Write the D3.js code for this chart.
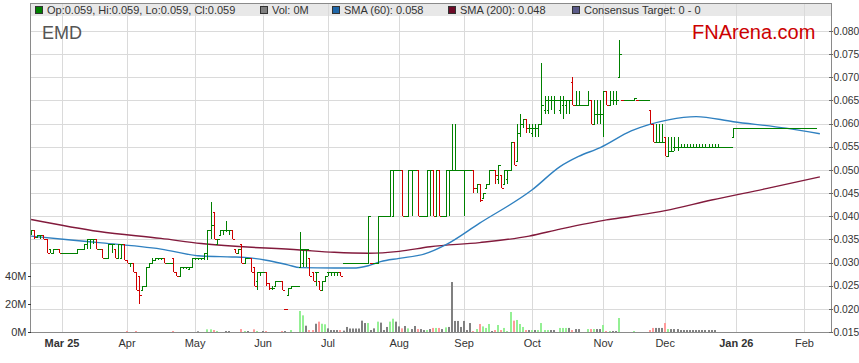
<!DOCTYPE html>
<html lang="en">
<head>
<meta charset="UTF-8">
<title>EMD</title>
<script src="https://d3js.org/d3.v7.min.js"></script>
<style>
  body { margin: 0; background: #fff; }
  svg { display: block; font-family: "Liberation Sans", Arial, sans-serif; }
  .grid line { stroke: #dadada; stroke-width: 1; shape-rendering: crispEdges; }
  .lbl { fill: #333; font-size: 11px; }
</style>
</head>
<body>
<svg id="chart" width="859" height="363"></svg>
<script>
// first trading day shown (weekdays from here on)
const firstDay = "2025-02-17";

// daily [open, high, low, close]
const priceRows = [
  [0.0365,0.037,0.036,0.037],[0.037,0.037,0.035,0.0355],[0.0355,0.036,0.0355,0.036],[0.036,0.036,0.035,0.036],[0.036,0.036,0.035,0.035],
  [0.035,0.035,0.032,0.032],[0.033,0.033,0.032,0.032],[0.032,0.033,0.032,0.033],[0.033,0.033,0.033,0.033],[0.033,0.033,0.032,0.032],
  [0.032,0.032,0.032,0.032],[0.032,0.032,0.032,0.032],[0.032,0.032,0.032,0.032],[0.032,0.032,0.032,0.032],[0.032,0.032,0.032,0.032],
  [0.032,0.033,0.032,0.033],[0.033,0.033,0.033,0.033],[0.033,0.034,0.033,0.034],[0.034,0.035,0.033,0.035],[0.035,0.035,0.033,0.035],
  [0.035,0.035,0.034,0.035],[0.035,0.035,0.033,0.033],[0.033,0.033,0.033,0.033],[0.033,0.033,0.031,0.031],[0.031,0.031,0.031,0.031],
  [0.031,0.034,0.031,0.034],[0.034,0.034,0.032,0.034],[0.033,0.033,0.031,0.031],[0.031,0.034,0.031,0.034],[0.031,0.034,0.031,0.034],
  [0.034,0.034,0.0305,0.0305],[0.0305,0.0305,0.030,0.030],[0.030,0.030,0.029,0.030],[0.030,0.030,0.028,0.028],[0.028,0.028,0.024,0.024],
  [0.027,0.027,0.021,0.023],[0.024,0.025,0.024,0.025],[0.025,0.029,0.025,0.029],[0.029,0.030,0.029,0.030],[0.030,0.031,0.030,0.0305],
  [0.0305,0.031,0.0305,0.031],[0.031,0.031,0.0305,0.031],[0.031,0.031,0.0305,0.031],[0.031,0.031,0.030,0.030],[0.030,0.030,0.030,0.030],
  [0.030,0.030,0.030,0.030],[0.031,0.031,0.028,0.028],[0.028,0.028,0.027,0.027],[0.027,0.029,0.027,0.029],[0.029,0.029,0.0285,0.029],
  [0.029,0.029,0.0285,0.029],[0.0285,0.029,0.0285,0.029],[0.029,0.031,0.029,0.031],[0.031,0.031,0.0305,0.031],[0.031,0.031,0.0305,0.031],
  [0.031,0.031,0.0305,0.031],[0.031,0.032,0.0305,0.032],[0.032,0.037,0.0305,0.037],[0.037,0.043,0.035,0.038],[0.041,0.041,0.035,0.035],
  [0.034,0.035,0.034,0.035],[0.036,0.037,0.036,0.037],[0.037,0.037,0.036,0.037],[0.037,0.039,0.0365,0.037],[0.037,0.037,0.036,0.037],
  [0.037,0.037,0.035,0.035],[0.033,0.033,0.032,0.032],[0.032,0.033,0.032,0.033],[0.034,0.034,0.030,0.030],[0.030,0.031,0.030,0.031],
  [0.031,0.031,0.031,0.031],[0.031,0.031,0.028,0.028],[0.029,0.029,0.025,0.025],[0.026,0.028,0.024,0.028],[0.028,0.028,0.027,0.028],
  [0.028,0.028,0.028,0.028],[0.028,0.028,0.025,0.0255],[0.0255,0.0255,0.024,0.0245],[0.0245,0.025,0.024,0.0245],[0.025,0.026,0.025,0.026],
  [0.026,0.026,0.026,0.026],[0.026,0.026,0.024,0.024],[0.020,0.020,0.020,0.020],[0.023,0.0245,0.023,0.0245],[0.0245,0.025,0.0245,0.025],
  [0.025,0.025,0.025,0.025],[0.025,0.025,0.025,0.025],[0.029,0.0365,0.029,0.033],[0.030,0.033,0.029,0.033],[0.033,0.033,0.029,0.033],
  [0.031,0.031,0.027,0.027],[0.028,0.028,0.026,0.026],[0.028,0.028,0.025,0.028],[0.026,0.026,0.024,0.024],[0.024,0.026,0.024,0.026],
  [0.026,0.027,0.026,0.027],[0.028,0.028,0.027,0.028],[0.028,0.028,0.027,0.028],[0.028,0.028,0.027,0.028],[0.028,0.028,0.027,0.028],
  [0.028,0.028,0.027,0.027],[0.030,0.030,0.030,0.030],[0.030,0.030,0.030,0.030],[0.030,0.030,0.030,0.030],[0.030,0.030,0.030,0.030],
  [0.030,0.030,0.030,0.030],[0.030,0.030,0.030,0.030],[0.030,0.030,0.030,0.030],[0.030,0.030,0.030,0.030],[0.030,0.040,0.030,0.040],
  [0.030,0.030,0.030,0.030],[0.030,0.030,0.030,0.030],[0.030,0.040,0.030,0.040],[0.040,0.040,0.040,0.040],[0.040,0.040,0.040,0.040],
  [0.040,0.040,0.040,0.040],[0.040,0.050,0.040,0.050],[0.040,0.050,0.040,0.050],[0.050,0.050,0.050,0.050],[0.050,0.050,0.050,0.050],
  [0.050,0.050,0.040,0.040],[0.040,0.040,0.040,0.040],[0.040,0.050,0.040,0.050],[0.050,0.050,0.040,0.050],[0.050,0.050,0.050,0.050],
  [0.050,0.050,0.040,0.040],[0.040,0.040,0.040,0.040],[0.040,0.040,0.040,0.040],[0.040,0.050,0.040,0.050],[0.050,0.050,0.040,0.050],
  [0.050,0.050,0.040,0.040],[0.040,0.050,0.040,0.050],[0.050,0.050,0.040,0.040],[0.040,0.040,0.040,0.040],[0.040,0.050,0.040,0.050],
  [0.050,0.050,0.040,0.050],[0.050,0.060,0.050,0.050],[0.050,0.060,0.050,0.050],[0.050,0.050,0.050,0.050],[0.050,0.050,0.050,0.050],
  [0.050,0.050,0.040,0.050],[0.050,0.050,0.050,0.050],[0.050,0.050,0.050,0.050],[0.050,0.050,0.045,0.046],[0.046,0.047,0.045,0.047],
  [0.047,0.047,0.043,0.0435],[0.044,0.045,0.044,0.045],[0.046,0.047,0.046,0.047],[0.047,0.050,0.047,0.050],[0.050,0.050,0.050,0.050],
  [0.050,0.050,0.047,0.049],[0.048,0.051,0.047,0.051],[0.049,0.049,0.046,0.046],[0.047,0.050,0.047,0.050],[0.048,0.050,0.047,0.050],
  [0.050,0.056,0.050,0.056],[0.056,0.056,0.051,0.051],[0.052,0.060,0.052,0.058],[0.058,0.062,0.057,0.060],[0.060,0.061,0.059,0.061],
  [0.061,0.061,0.058,0.059],[0.059,0.060,0.058,0.059],[0.058,0.060,0.057,0.059],[0.059,0.060,0.057,0.059],[0.059,0.060,0.057,0.060],
  [0.060,0.073,0.060,0.064],[0.063,0.066,0.062,0.065],[0.063,0.066,0.062,0.065],[0.065,0.066,0.063,0.065],[0.065,0.066,0.062,0.065],
  [0.065,0.065,0.065,0.065],[0.063,0.066,0.062,0.065],[0.064,0.066,0.061,0.065],[0.064,0.065,0.062,0.065],[0.065,0.065,0.062,0.065],
  [0.069,0.070,0.064,0.064],[0.064,0.067,0.064,0.064],[0.064,0.067,0.064,0.064],[0.064,0.064,0.064,0.064],[0.064,0.064,0.064,0.064],
  [0.064,0.067,0.064,0.065],[0.065,0.065,0.060,0.060],[0.060,0.065,0.060,0.062],[0.062,0.065,0.060,0.062],[0.062,0.065,0.060,0.062],
  [0.062,0.067,0.057,0.067],[0.067,0.067,0.064,0.064],[0.064,0.067,0.064,0.065],[0.065,0.067,0.064,0.065],[0.065,0.067,0.064,0.065],
  [0.070,0.078,0.070,0.075],[0.065,0.065,0.065,0.065],[0.065,0.065,0.065,0.065],[0.065,0.065,0.065,0.065],[0.065,0.065,0.065,0.065],
  [0.065,0.0655,0.065,0.0655],[0.065,0.065,0.065,0.065],[0.065,0.065,0.065,0.065],[0.065,0.065,0.065,0.065],[0.065,0.065,0.065,0.065],
  [0.063,0.063,0.060,0.060],[0.060,0.060,0.056,0.056],[0.056,0.060,0.056,0.056],[0.056,0.060,0.056,0.056],[0.056,0.060,0.056,0.056],
  [0.057,0.057,0.053,0.053],[0.053,0.057,0.053,0.054],[0.054,0.057,0.054,0.054],[0.055,0.057,0.054,0.055],[0.055,0.057,0.054,0.055],
  [0.055,0.0556,0.055,0.055],[0.055,0.0556,0.055,0.055],[0.055,0.0556,0.055,0.055],[0.055,0.0556,0.055,0.055],[0.055,0.0556,0.055,0.055],
  [0.055,0.0556,0.055,0.055],[0.055,0.0556,0.055,0.055],[0.055,0.0556,0.055,0.055],[0.055,0.0556,0.055,0.055],[0.055,0.0556,0.055,0.055],
  [0.055,0.0556,0.055,0.055],[0.055,0.0556,0.055,0.055],[0.055,0.0556,0.055,0.055],[0.055,0.055,0.055,0.055],[0.055,0.055,0.055,0.055],
  [0.055,0.055,0.055,0.055],[0.055,0.055,0.055,0.055],[0.057,0.059,0.057,0.059],[0.059,0.059,0.059,0.059],[0.059,0.059,0.059,0.059],
  [0.059,0.059,0.059,0.059],[0.059,0.059,0.059,0.059],[0.059,0.059,0.059,0.059],[0.059,0.059,0.059,0.059],[0.059,0.059,0.059,0.059],
  [0.059,0.059,0.059,0.059],[0.059,0.059,0.059,0.059],[0.059,0.059,0.059,0.059],[0.059,0.059,0.059,0.059],[0.059,0.059,0.059,0.059],
  [0.059,0.059,0.059,0.059],[0.059,0.059,0.059,0.059],[0.059,0.059,0.059,0.059],[0.059,0.059,0.059,0.059],[0.059,0.059,0.059,0.059],
  [0.059,0.059,0.059,0.059],[0.059,0.059,0.059,0.059],[0.059,0.059,0.059,0.059],[0.059,0.059,0.059,0.059],[0.059,0.059,0.059,0.059],
  [0.059,0.059,0.059,0.059],[0.059,0.059,0.059,0.059],[0.059,0.059,0.059,0.059],[0.059,0.059,0.059,0.059]
];

// daily volume, millions of shares
const volumes = [
  0,0,0,0,0, 0,0,0,0,0, 0,0,0,0,0, 0,0,0,0,0, 0,0,0,0,0, 0,0,0,0,0,
  0,0.7,0,0,0.7, 0,0,0,0,0, 0,0,0,0,0, 0,0.7,0,0,0, 0,0,0,0,0.5,
  0,0,1.9,1.9,1.4, 0.7,0,0,0.7,0.7, 0,0,0,2.1,0.7, 0.7,0,1.9,0.7,0, 0.7,0.7,0,0,0,
  0,0.7,0.7,0,1.4, 0,0,15,11.9,4.5, 1.4,1.4,5.9,7.4,5.9, 5.5,2.6,1.4,1.4,1.4,
  1.4,1,3.6,2.5,2.5, 2.5,2.5,8.1,6.4,6.4, 1.4,2.6,7.4,6.7,1.4, 3.6,7.4,9.5,7.4,4,
  2.6,4.3,2.6,2.1,4.3, 2.1,2.1,1.4,1.4,2.1, 2.9,2.9,2.9,2.1,3.3, 3.6,35.7,7.9,7.9,3.6,
  7.9,1.4,6.4,0.7,2.1, 5.7,4,2.9,5.7,0.7, 1.4,5,1.4,2.9,0.7, 14.3,8.1,8.6,5.7,3.6,
  1.4,1.4,1.4,1.4,1.4, 6.4,1.4,1.4,1.4,1.4, 0,2.9,2.9,2.9,2.9, 1.4,2.1,2.1,0,0,
  2.1,2.1,2.1,2.1,2.1, 5,0.7,0.7,0.7,0.7, 10,0,0,0,0, 0.7,0,0,0,0,
  1.4,2.9,2.9,2.9,2.9, 6.4,2.1,2.1,2.1,2.1, 1.4,1.4,1.4,1.4,1.4, 1.4,1.4,1.4,1.4,1.4,
  1.4,1.4
];

// moving averages: [trading day number, value]
const sma60Points = [
  [0,0.0357],[12,0.0349],[22,0.0343],[42,0.0329],[55,0.0314],[65,0.0312],[69,0.0311],[76,0.0305],
  [83,0.0295],[87,0.0289],[98,0.0288],[104,0.0288],[109,0.0293],[113,0.0302],[119,0.0309],[127,0.0318],
  [134,0.0338],[145,0.0385],[162,0.0457],[171,0.0507],[177,0.0529],[184,0.0548],[194,0.0584],
  [206,0.0608],[215,0.0615],[227,0.0604],[244,0.0590],[255,0.0578]
];
const sma200Points = [
  [0,0.0393],[22,0.0367],[42,0.0352],[55,0.0341],[87,0.0327],[98,0.0322],[109,0.0320],[119,0.0324],
  [129,0.0334],[145,0.0343],[161,0.0357],[171,0.0372],[186,0.0392],[194,0.0400],[205,0.0412],
  [220,0.0435],[238,0.0460],[255,0.0485]
];

const priceTicks = [0.015,0.020,0.025,0.030,0.035,0.040,0.045,0.050,0.055,0.060,0.065,0.070,0.075,0.080];
const volumeTicks = [0, 20, 40];

const legendItems = [
  {label: "Op:0.059, Hi:0.059, Lo:0.059, Cl:0.059", color: "#008000", x: 35},
  {label: "Vol: 0M", color: "#808080", x: 260},
  {label: "SMA (60): 0.058", color: "#1f66a8", x: 332},
  {label: "SMA (200): 0.048", color: "#6e0b28", x: 448},
  {label: "Consensus Target: 0 - 0", color: "#5a5a88", x: 572}
];

const svg = d3.select("#chart");
const plotL = 30.5, plotR = 831, frameT = 3, plotT = 17, plotB = 332;

// weekday calendar used for the time axis
const parseDay = d3.timeParse("%Y-%m-%d");
const startDay = parseDay(firstDay);
const weekdays = d3.timeDay.range(startDay, d3.timeDay.offset(startDay, 372))
  .filter(d => d.getDay() !== 0 && d.getDay() !== 6);

const x = d3.scaleLinear().domain([0, 258.6]).range([31.1, 831]);
const y = d3.scaleLinear().domain([0.015, 0.083]).range([plotB, plotT]);
const yVol = d3.scaleLinear().domain([0, 20]).range([plotB, plotB - 28]);

// month ticks = first weekday of each month
const monthTicks = [];
weekdays.forEach((d, i) => {
  if (i > 0 && i <= 258 && d.getMonth() !== weekdays[i - 1].getMonth()) monthTicks.push(i);
});

// legend band
svg.append("rect").attr("x", plotL).attr("y", frameT).attr("width", plotR - plotL).attr("height", plotT - frameT - 1)
  .attr("fill", "#e8e8e8");

// grid
const grid = svg.append("g").attr("class", "grid");
grid.selectAll(".h").data(priceTicks.slice(1)).enter().append("line")
  .attr("x1", plotL).attr("x2", plotR).attr("y1", d => Math.round(y(d)) + 0.5).attr("y2", d => Math.round(y(d)) + 0.5);
grid.selectAll(".v").data(monthTicks).enter().append("line")
  .attr("x1", d => Math.round(x(d)) + 0.5).attr("x2", d => Math.round(x(d)) + 0.5)
  .attr("y1", frameT).attr("y2", plotB);

svg.append("defs").append("clipPath").attr("id", "plot")
  .append("rect").attr("x", 31).attr("y", plotT).attr("width", plotR - 31).attr("height", plotB - plotT);
const plot = svg.append("g").attr("clip-path", "url(#plot)");

// volume bars
plot.selectAll(".vol").data(volumes).enter().append("rect")
  .attr("x", (d, i) => Math.round(x(i)) - 1).attr("width", 2)
  .attr("y", d => yVol(d)).attr("height", d => plotB - yVol(d))
  .attr("fill", (d, i) => {
    const r = priceRows[i];
    return r[3] > r[0] ? "#94f094" : r[3] < r[0] ? "#ff9a9a" : "#808080";
  });

// moving averages
const smaLine = d3.line().x(d => x(d[0])).y(d => y(d[1])).curve(d3.curveMonotoneX);
plot.append("path").datum(sma200Points).attr("d", smaLine)
  .attr("fill", "none").attr("stroke", "#821a3c").attr("stroke-width", 1.4);
plot.append("path").datum(sma60Points).attr("d", smaLine)
  .attr("fill", "none").attr("stroke", "#2f80c0").attr("stroke-width", 1.4);

// OHLC bars
plot.selectAll(".bar").data(priceRows).enter().append("path")
  .attr("d", (r, i) => {
    const cx = Math.round(x(i)) + 0.5;
    const yh = y(r[1]), yl = y(r[2]);
    return `M${cx},${Math.round(yh)}V${Math.max(Math.round(yl), Math.round(yh) + 1)}` +
      `M${cx - 2},${Math.round(y(r[0])) + 0.5}H${cx}` +
      `M${cx},${Math.round(y(r[3])) + 0.5}H${cx + 2}`;
  })
  .attr("fill", "none").attr("stroke-width", 1).attr("shape-rendering", "crispEdges")
  .attr("stroke", (r, i) => (i === 0 || r[3] >= priceRows[i - 1][3]) ? "#008000" : "#d00000");

// frame
const frame = svg.append("g").attr("stroke", "#8a8a8a").attr("shape-rendering", "crispEdges");
frame.append("line").attr("x1", plotL).attr("x2", plotR).attr("y1", frameT).attr("y2", frameT);
frame.append("line").attr("x1", plotL).attr("x2", plotL).attr("y1", frameT).attr("y2", plotB);
frame.append("line").attr("x1", plotR).attr("x2", plotR).attr("y1", frameT).attr("y2", plotB);
frame.append("line").attr("x1", plotL).attr("x2", plotR).attr("y1", plotB + 0.5).attr("y2", plotB + 0.5);

// right price axis
const rAxis = svg.append("g");
rAxis.selectAll("line").data(priceTicks).enter().append("line")
  .attr("x1", plotR - 2).attr("x2", plotR + 2)
  .attr("y1", d => Math.round(y(d)) + 0.5).attr("y2", d => Math.round(y(d)) + 0.5)
  .attr("stroke", "#666").attr("shape-rendering", "crispEdges");
rAxis.selectAll("text").data(priceTicks).enter().append("text").attr("class", "lbl")
  .attr("x", plotR + 2.5).attr("y", d => y(d)).attr("dy", "0.36em").style("font-size", "10.3px")
  .text(d => d3.format(".3f")(d));

// left volume axis
const lAxis = svg.append("g");
lAxis.selectAll("line").data(volumeTicks).enter().append("line")
  .attr("x1", plotL - 3).attr("x2", plotL)
  .attr("y1", d => Math.round(yVol(d)) + 0.5).attr("y2", d => Math.round(yVol(d)) + 0.5)
  .attr("stroke", "#333").attr("shape-rendering", "crispEdges");
lAxis.selectAll("text").data(volumeTicks).enter().append("text").attr("class", "lbl")
  .attr("x", plotL - 4).attr("y", d => yVol(d)).attr("dy", "0.36em").attr("text-anchor", "end")
  .text(d => d + "M");

// bottom month labels
svg.selectAll(".mlbl").data(monthTicks).enter().append("text").attr("class", "lbl")
  .attr("x", d => x(d)).attr("y", 347).attr("text-anchor", "middle")
  .attr("font-weight", (d, k) => (k === 0 || weekdays[d].getMonth() === 0) ? "bold" : "normal")
  .text((d, k) => (k === 0 || weekdays[d].getMonth() === 0)
    ? d3.timeFormat("%b %y")(weekdays[d]) : d3.timeFormat("%b")(weekdays[d]));

// legend
const leg = svg.selectAll(".leg").data(legendItems).enter().append("g");
leg.append("rect").attr("x", d => d.x + 0.5).attr("y", 6.5).attr("width", 7).attr("height", 7)
  .attr("fill", d => d.color).attr("stroke", "#333").attr("stroke-width", 1);
leg.append("text").attr("class", "lbl").attr("x", d => d.x + 12).attr("y", 14).text(d => d.label);

// titles
svg.append("text").attr("x", 42).attr("y", 39).attr("font-size", 18).attr("fill", "#555").text("EMD");
svg.append("text").attr("x", 692).attr("y", 39).attr("font-size", 20).attr("fill", "#cc0000").text("FNArena.com");
</script>
</body>
</html>
